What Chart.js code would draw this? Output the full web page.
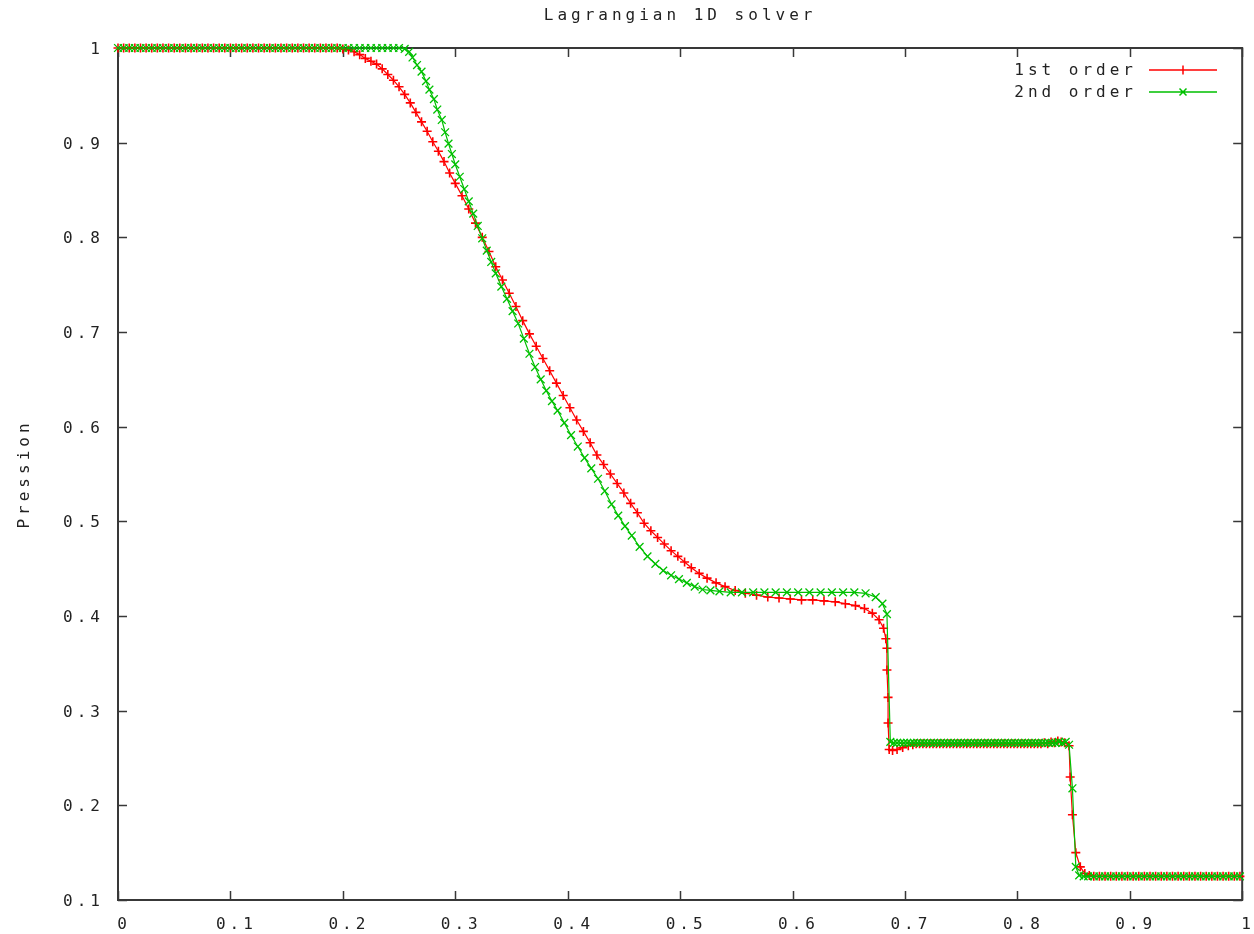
<!DOCTYPE html>
<html>
<head>
<meta charset="utf-8">
<title>Lagrangian 1D solver</title>
<script src="https://cdn.jsdelivr.net/npm/chart.js@4.4.1/dist/chart.umd.min.js"></script>
<style>
  html, body { margin: 0; padding: 0; background: #fff; }
  #box { width: 1254px; height: 934px; }
</style>
</head>
<body>
<div id="box"><canvas id="pressure"></canvas></div>
<script>
// axis ticks
var xTickValues = [0, 0.1, 0.2, 0.3, 0.4, 0.5, 0.6, 0.7, 0.8, 0.9, 1];
var xTickLabels = ['0', '0.1', '0.2', '0.3', '0.4', '0.5', '0.6', '0.7', '0.8', '0.9', '1'];
var yTickValues = [0.1, 0.2, 0.3, 0.4, 0.5, 0.6, 0.7, 0.8, 0.9, 1];
var yTickLabels = ['0.1', '0.2', '0.3', '0.4', '0.5', '0.6', '0.7', '0.8', '0.9', '1'];

var seriesNames = ['1st order', '2nd order'];

// 1st order : positions of the cells and pressure
var xFirst = [
  0, 0.005, 0.01, 0.015, 0.02, 0.025, 0.03, 0.035, 0.04, 0.045,
  0.05, 0.055, 0.06, 0.065, 0.07, 0.075, 0.08, 0.085, 0.09, 0.095,
  0.1, 0.105, 0.11, 0.115, 0.12, 0.125, 0.13, 0.135, 0.14, 0.145,
  0.15, 0.155, 0.16, 0.165, 0.17, 0.175, 0.18, 0.185, 0.19, 0.195,
  0.2, 0.205, 0.21, 0.215, 0.22, 0.225, 0.23, 0.235, 0.24, 0.245,
  0.25, 0.255, 0.26, 0.265, 0.27, 0.275, 0.28, 0.285, 0.29, 0.295, 0.3,
  0.306, 0.312, 0.318, 0.324, 0.33, 0.336, 0.342, 0.348, 0.354, 0.36,
  0.366, 0.372, 0.378, 0.384, 0.39, 0.396, 0.402, 0.408, 0.414, 0.42,
  0.426, 0.432, 0.438, 0.444, 0.45, 0.456, 0.462, 0.468, 0.474, 0.48,
  0.486, 0.492, 0.498, 0.504, 0.51,
  0.517, 0.524, 0.532, 0.54, 0.549, 0.558, 0.568, 0.578, 0.588, 0.598,
  0.608, 0.618, 0.628, 0.638, 0.647, 0.656, 0.664, 0.671, 0.677, 0.681,
  0.683, 0.684, 0.684, 0.685, 0.685, 0.686, 0.689, 0.693, 0.698, 0.703, 0.707,
  0.71, 0.713, 0.716, 0.719, 0.722, 0.725, 0.728, 0.731, 0.734, 0.737,
  0.74, 0.743, 0.746, 0.749, 0.752, 0.755, 0.758, 0.761, 0.764, 0.767,
  0.77, 0.773, 0.776, 0.779, 0.782, 0.785, 0.788, 0.791, 0.794, 0.797,
  0.8, 0.803, 0.806, 0.809, 0.812, 0.815, 0.818, 0.821, 0.824, 0.827,
  0.83, 0.833, 0.836, 0.839, 0.842,
  0.846, 0.847, 0.849, 0.852, 0.856, 0.86, 0.864,
  0.868, 0.873, 0.878, 0.883, 0.888, 0.893, 0.898, 0.903, 0.908, 0.913,
  0.918, 0.923, 0.928, 0.933, 0.938, 0.943, 0.948, 0.953, 0.958, 0.963,
  0.968, 0.973, 0.978, 0.983, 0.988, 0.993, 0.998
];
var pFirst = [
  1, 1, 1, 1, 1, 1, 1, 1, 1, 1,
  1, 1, 1, 1, 1, 1, 1, 1, 1, 1,
  1, 1, 1, 1, 1, 1, 1, 1, 1, 1,
  1, 1, 1, 1, 1, 1, 1, 1, 1, 1,
  0.999, 0.998, 0.996, 0.993, 0.989, 0.986, 0.983, 0.978, 0.972, 0.966,
  0.959, 0.951, 0.942, 0.932, 0.922, 0.912, 0.901, 0.891, 0.880, 0.868, 0.857,
  0.844, 0.830, 0.815, 0.800, 0.785, 0.769, 0.755, 0.741, 0.727, 0.712,
  0.698, 0.685, 0.672, 0.659, 0.646, 0.633, 0.620, 0.607, 0.595, 0.583,
  0.570, 0.560, 0.550, 0.540, 0.530, 0.519, 0.509, 0.498, 0.490, 0.483,
  0.476, 0.469, 0.463, 0.457, 0.451,
  0.445, 0.440, 0.435, 0.431, 0.427, 0.424, 0.422, 0.420, 0.419, 0.418,
  0.417, 0.417, 0.416, 0.415, 0.413, 0.411, 0.408, 0.403, 0.396, 0.387,
  0.376, 0.366, 0.343, 0.314, 0.287, 0.259, 0.258, 0.259, 0.261, 0.263, 0.264,
  0.265, 0.265, 0.265, 0.265, 0.265, 0.265, 0.265, 0.265, 0.265, 0.265,
  0.265, 0.265, 0.265, 0.265, 0.265, 0.265, 0.265, 0.265, 0.265, 0.265,
  0.265, 0.265, 0.265, 0.265, 0.265, 0.265, 0.265, 0.265, 0.265, 0.265,
  0.265, 0.265, 0.265, 0.265, 0.265, 0.265, 0.265, 0.265, 0.266, 0.265,
  0.267, 0.266, 0.268, 0.267, 0.266,
  0.263, 0.230, 0.190, 0.150, 0.135, 0.128, 0.126,
  0.125, 0.125, 0.125, 0.125, 0.125, 0.125, 0.125, 0.125, 0.125, 0.125,
  0.125, 0.125, 0.125, 0.125, 0.125, 0.125, 0.125, 0.125, 0.125, 0.125,
  0.125, 0.125, 0.125, 0.125, 0.125, 0.125, 0.125
];

// 2nd order
var xSecond = [
  0, 0.005, 0.01, 0.015, 0.02, 0.025, 0.03, 0.035, 0.04, 0.045,
  0.05, 0.055, 0.06, 0.065, 0.07, 0.075, 0.08, 0.085, 0.09, 0.095,
  0.1, 0.105, 0.11, 0.115, 0.12, 0.125, 0.13, 0.135, 0.14, 0.145,
  0.15, 0.155, 0.16, 0.165, 0.17, 0.175, 0.18, 0.185, 0.19, 0.195,
  0.2, 0.205, 0.21, 0.215, 0.22, 0.225, 0.23, 0.235, 0.24, 0.245, 0.25,
  0.255, 0.259, 0.262, 0.266, 0.27, 0.274, 0.277, 0.281, 0.284, 0.288,
  0.291, 0.294, 0.297, 0.3, 0.304, 0.308, 0.312, 0.316, 0.32, 0.324,
  0.328, 0.332, 0.336, 0.341, 0.346, 0.351, 0.356, 0.361, 0.366, 0.371,
  0.376, 0.381, 0.386, 0.391, 0.397, 0.403, 0.409, 0.415, 0.421, 0.427,
  0.433, 0.439, 0.445, 0.451, 0.457, 0.464, 0.471, 0.478, 0.485, 0.492,
  0.499, 0.506, 0.513, 0.52, 0.527, 0.535, 0.545,
  0.555, 0.565, 0.575, 0.585, 0.595, 0.605, 0.615, 0.625, 0.635, 0.645, 0.655,
  0.665, 0.674, 0.68, 0.684, 0.687,
  0.69, 0.693, 0.696, 0.699, 0.702, 0.705, 0.708, 0.711, 0.714, 0.717,
  0.72, 0.723, 0.726, 0.729, 0.732, 0.735, 0.738, 0.741, 0.744, 0.747,
  0.75, 0.753, 0.756, 0.759, 0.762, 0.765, 0.768, 0.771, 0.774, 0.777,
  0.78, 0.783, 0.786, 0.789, 0.792, 0.795, 0.798, 0.801, 0.804, 0.807,
  0.81, 0.813, 0.816, 0.819, 0.822, 0.825, 0.828, 0.831, 0.834, 0.837,
  0.84, 0.843,
  0.846, 0.849, 0.852, 0.855, 0.859,
  0.863, 0.868, 0.873, 0.878, 0.883, 0.888, 0.893, 0.898, 0.903, 0.908,
  0.913, 0.918, 0.923, 0.928, 0.933, 0.938, 0.943, 0.948, 0.953, 0.958,
  0.963, 0.968, 0.973, 0.978, 0.983, 0.988, 0.993, 0.998
];
var pSecond = [
  1, 1, 1, 1, 1, 1, 1, 1, 1, 1,
  1, 1, 1, 1, 1, 1, 1, 1, 1, 1,
  1, 1, 1, 1, 1, 1, 1, 1, 1, 1,
  1, 1, 1, 1, 1, 1, 1, 1, 1, 1,
  1, 1, 1, 1, 1, 1, 1, 1, 1, 1, 1,
  0.999, 0.996, 0.990, 0.982, 0.975, 0.965, 0.956, 0.946, 0.935, 0.924,
  0.911, 0.899, 0.888, 0.877, 0.864, 0.851, 0.838, 0.825, 0.812, 0.799,
  0.786, 0.774, 0.762, 0.748, 0.735, 0.722, 0.709, 0.693, 0.677, 0.663,
  0.650, 0.638, 0.627, 0.617, 0.604, 0.591, 0.579, 0.567, 0.556, 0.545,
  0.532, 0.518, 0.506, 0.495, 0.485, 0.473, 0.463, 0.455, 0.448, 0.443,
  0.439, 0.435, 0.431, 0.428, 0.427, 0.426, 0.425,
  0.425, 0.425, 0.425, 0.425, 0.425, 0.425, 0.425, 0.425, 0.425, 0.425, 0.425,
  0.424, 0.420, 0.413, 0.402, 0.267,
  0.266, 0.266, 0.266, 0.266, 0.266, 0.266, 0.266, 0.266, 0.266, 0.266,
  0.266, 0.266, 0.266, 0.266, 0.266, 0.266, 0.266, 0.266, 0.266, 0.266,
  0.266, 0.266, 0.266, 0.266, 0.266, 0.266, 0.266, 0.266, 0.266, 0.266,
  0.266, 0.266, 0.266, 0.266, 0.266, 0.266, 0.266, 0.266, 0.266, 0.266,
  0.266, 0.266, 0.266, 0.266, 0.266, 0.266, 0.266, 0.266, 0.266, 0.267,
  0.266, 0.267,
  0.264, 0.218, 0.135, 0.126, 0.125,
  0.125, 0.125, 0.125, 0.125, 0.125, 0.125, 0.125, 0.125, 0.125, 0.125,
  0.125, 0.125, 0.125, 0.125, 0.125, 0.125, 0.125, 0.125, 0.125, 0.125,
  0.125, 0.125, 0.125, 0.125, 0.125, 0.125, 0.125, 0.125
];

var FONT = "'DejaVu Sans Mono', 'Liberation Mono', monospace";
var SPACING = '4px'; // gnuplot's pixel font is widely spaced

function toPoints(xs, ps) {
    return xs.map(function (x, i) { return { x: x, y: ps[i] }; });
}

// wide letter spacing for every text the chart draws
var spacing = {
    id: 'spacing',
    beforeDraw: function (chart) {
        chart.ctx.letterSpacing = SPACING;
    }
};

// gnuplot style box with inward ticks on all four sides
var frame = {
    id: 'frame',
    beforeDatasetsDraw: function (chart) {
        var ctx = chart.ctx, a = chart.chartArea;
        var xs = chart.scales.x, ys = chart.scales.y;
        ctx.save();
        ctx.strokeStyle = '#383838';
        ctx.lineWidth = 1.5;
        ctx.beginPath();
        xTickValues.forEach(function (v) {
            var px = Math.round(xs.getPixelForValue(v)) + 0.5;
            ctx.moveTo(px, a.bottom); ctx.lineTo(px, a.bottom - 9);
            ctx.moveTo(px, a.top); ctx.lineTo(px, a.top + 9);
        });
        yTickValues.forEach(function (v) {
            var py = Math.round(ys.getPixelForValue(v)) + 0.5;
            ctx.moveTo(a.left, py); ctx.lineTo(a.left + 9, py);
            ctx.moveTo(a.right, py); ctx.lineTo(a.right - 9, py);
        });
        ctx.stroke();
        ctx.lineWidth = 2;
        ctx.strokeRect(a.left, a.top, a.right - a.left, a.bottom - a.top);
        ctx.restore();
    }
};

// key in the top right corner: text, then a line sample with its marker
var key = {
    id: 'key',
    afterDraw: function (chart) {
        var ctx = chart.ctx;
        ctx.save();
        ctx.font = '16px ' + FONT;
        ctx.letterSpacing = SPACING;
        ctx.textAlign = 'right';
        ctx.textBaseline = 'middle';
        chart.data.datasets.forEach(function (ds, i) {
            var y = 70 + i * 22;
            ctx.fillStyle = '#222';
            ctx.fillText(ds.label, 1137, y + 1);
            ctx.strokeStyle = ds.borderColor;
            ctx.lineWidth = 1.5;
            ctx.beginPath();
            ctx.moveTo(1149, y); ctx.lineTo(1217, y);
            var m = 1183;
            if (ds.pointStyle === 'cross') {
                ctx.moveTo(m, y - 4.5); ctx.lineTo(m, y + 4.5);
            } else {
                ctx.moveTo(m - 3.5, y - 3.5); ctx.lineTo(m + 3.5, y + 3.5);
                ctx.moveTo(m - 3.5, y + 3.5); ctx.lineTo(m + 3.5, y - 3.5);
            }
            ctx.stroke();
        });
        ctx.restore();
    }
};

Chart.defaults.font.family = FONT;
Chart.defaults.font.size = 16;
Chart.defaults.color = '#222';

var pressureChart = new Chart(document.getElementById('pressure'), {
    type: 'line',
    data: {
        datasets: [{
            label: seriesNames[0],
            data: toPoints(xFirst, pFirst),
            borderColor: '#ff0000',
            backgroundColor: '#ff0000',
            borderWidth: 1.2,
            pointStyle: 'cross',
            pointRadius: 4.5,
            pointBorderWidth: 1.6,
            pointBorderColor: '#ff0000',
            tension: 0,
            clip: false,
            order: 1
        }, {
            label: seriesNames[1],
            data: toPoints(xSecond, pSecond),
            borderColor: '#00c000',
            backgroundColor: '#00c000',
            borderWidth: 1.2,
            pointStyle: 'crossRot',
            pointRadius: 5.5,
            pointBorderWidth: 1.3,
            pointBorderColor: '#00c000',
            tension: 0,
            clip: false,
            order: 0
        }]
    },
    options: {
        responsive: true,
        maintainAspectRatio: false,
        animation: false,
        layout: { padding: { left: 0, right: 3, top: 0, bottom: 0 } },
        plugins: {
            legend: { display: false },
            tooltip: { enabled: false },
            title: {
                display: true,
                text: 'Lagrangian 1D solver',
                fullSize: false,
                color: '#222',
                font: { size: 16, weight: 'normal' },
                padding: { top: 6, bottom: 22.8 }
            }
        },
        scales: {
            x: {
                type: 'linear',
                min: 0,
                max: 1,
                grid: { display: false },
                border: { display: false },
                afterBuildTicks: function (scale) {
                    scale.ticks = xTickValues.map(function (v) { return { value: v }; });
                },
                afterFit: function (scale) { scale.height = 34; },
                ticks: {
                    padding: 7,
                    labelOffset: 6,
                    maxRotation: 0,
                    autoSkip: false,
                    callback: function (value, index) { return xTickLabels[index]; }
                }
            },
            y: {
                type: 'linear',
                min: 0.1,
                max: 1,
                grid: { display: false },
                border: { display: false },
                afterBuildTicks: function (scale) {
                    scale.ticks = yTickValues.map(function (v) { return { value: v }; });
                },
                afterFit: function (scale) { scale.width = 118; },
                title: {
                    display: true,
                    text: 'Pression',
                    color: '#222',
                    font: { size: 16 },
                    padding: { top: 15, bottom: 0 }
                },
                ticks: {
                    padding: 6,
                    labelOffset: 2,
                    autoSkip: false,
                    callback: function (value, index) { return yTickLabels[index]; }
                }
            }
        }
    },
    plugins: [spacing, frame, key]
});
</script>
</body>
</html>
